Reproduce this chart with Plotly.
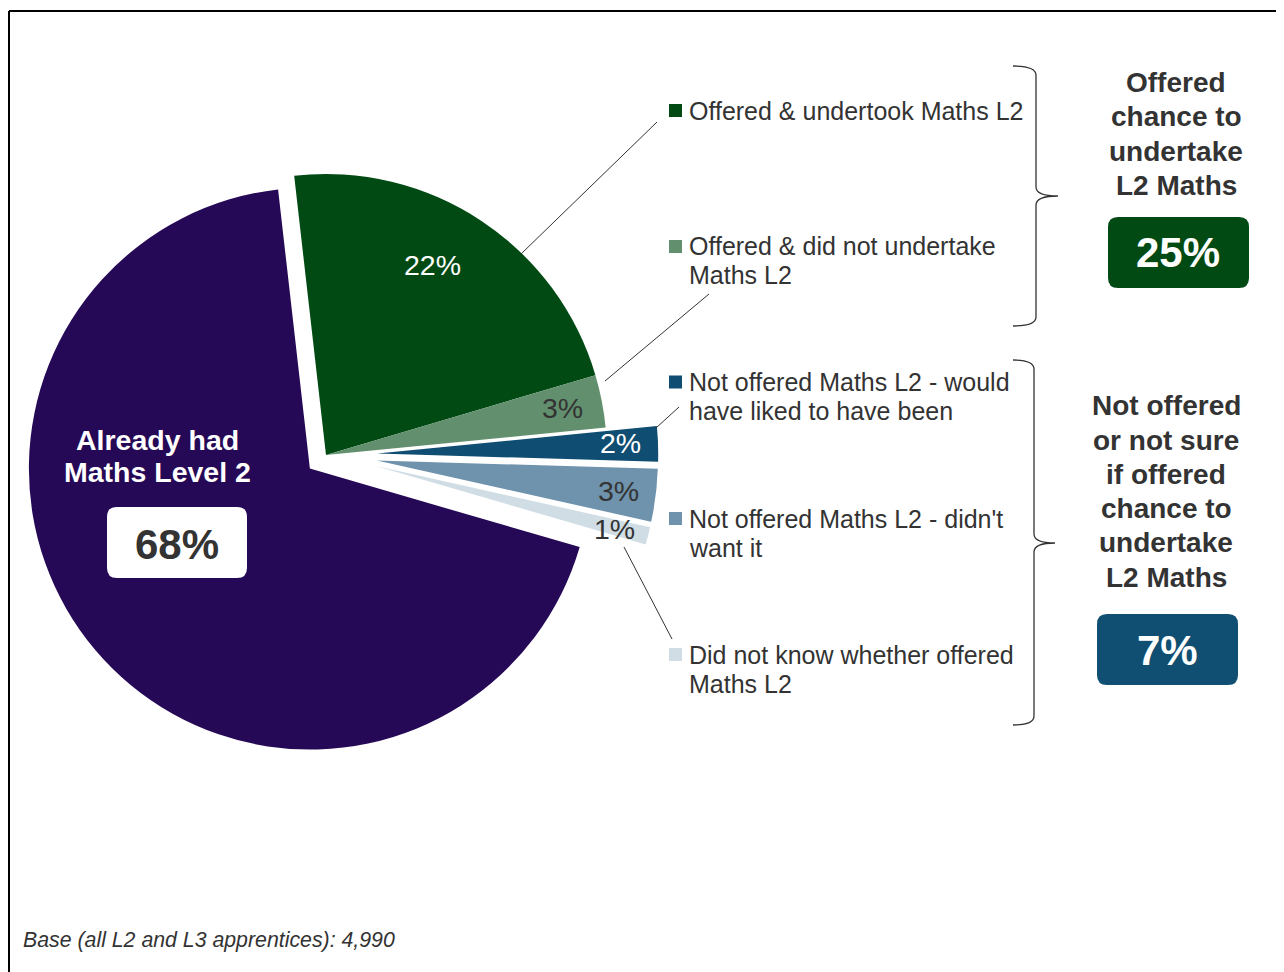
import plotly.graph_objects as go

W, H = 1284, 972
OFF = 8  # page body offset in the browser

# ---------------- data ----------------
categories = [
    "Offered & undertook Maths L2",
    "Offered & did not undertake Maths L2",
    "Not offered Maths L2 - would have liked to have been",
    "Not offered Maths L2 - didn't want it",
    "Did not know whether offered Maths L2",
    "Already had Maths Level 2",
]
values = [22, 3, 2, 3, 1, 68]
legend_lines = [
    ["Offered & undertook Maths L2"],
    ["Offered & did not undertake", "Maths L2"],
    ["Not offered Maths L2 - would", "have liked to have been"],
    ["Not offered Maths L2 - didn't", "want it"],
    ["Did not know whether offered", "Maths L2"],
]
offered_total = 25
not_offered_total = 7
group1_lines = ["Offered", "chance to", "undertake", "L2 Maths"]
group2_lines = ["Not offered", "or not sure", "if offered", "chance to", "undertake", "L2 Maths"]
main_label_lines = ["Already had", "Maths Level 2"]
base_note = "Base (all L2 and L3 apprentices): 4,990"

# ---------------- style ----------------
colors = ["#024A13", "#62906E", "#0F4D72", "#6F93AD", "#D0DDE5", "#260956"]
CLEAR = "rgba(0,0,0,0)"
FONT = "Liberation Sans, Arial, sans-serif"
DARK = "#333333"


def X(px):
    return (px - OFF) / W


def Y(py):
    return 1 - (py - OFF) / H


fig = go.Figure()

# true pie centre (screen px) and radius
cx, cy, R = 326, 455, 281
p_main = 0.075   # purple slice pull
p_small = 0.157  # pull of the three small "not offered" slices (drawn in second layer)

# layer A: main slices
half_a = R * (1 + p_main)
fig.add_trace(go.Pie(
    values=values, labels=categories, sort=False, direction="clockwise",
    rotation=-6.5, pull=[0, 0, 0, 0, 0, p_main],
    marker=dict(colors=[colors[0], colors[1], CLEAR, CLEAR, CLEAR, colors[5]],
                line=dict(width=0)),
    textinfo="none", hoverinfo="label+percent", showlegend=False,
    domain=dict(x=[X(cx - half_a), X(cx + half_a)], y=[Y(cy + 335), Y(cy - 335)]),
))

# layer B: pulled-out small slices
half_b = R * (1 + p_small)
cxb = OFF + half_b
fig.add_trace(go.Pie(
    values=values, labels=categories, sort=False, direction="clockwise",
    rotation=-6.5, pull=[0, 0, p_small, p_small, p_small, 0],
    marker=dict(colors=[CLEAR, CLEAR, colors[2], colors[3], colors[4], CLEAR],
                line=dict(width=0)),
    textinfo="none", hoverinfo="label+percent", showlegend=False,
    domain=dict(x=[0, X(cxb + half_b)], y=[Y(cy + 345), Y(cy - 345)]),
))


def txt(x, y, s, size, color, bold=False, italic=False, xanchor="center"):
    if bold:
        s = "<b>" + s + "</b>"
    if italic:
        s = "<i>" + s + "</i>"
    fig.add_annotation(x=X(x), y=Y(y), xref="paper", yref="paper", text=s,
                       showarrow=False, xanchor=xanchor, yanchor="middle",
                       font=dict(family=FONT, size=size, color=color))


def rrect(x0, y0, x1, y1, r, fill):
    p = (f"M {X(x0+r)},{Y(y0)} L {X(x1-r)},{Y(y0)} Q {X(x1)},{Y(y0)} {X(x1)},{Y(y0+r)} "
         f"L {X(x1)},{Y(y1-r)} Q {X(x1)},{Y(y1)} {X(x1-r)},{Y(y1)} "
         f"L {X(x0+r)},{Y(y1)} Q {X(x0)},{Y(y1)} {X(x0)},{Y(y1-r)} "
         f"L {X(x0)},{Y(y0+r)} Q {X(x0)},{Y(y0)} {X(x0+r)},{Y(y0)} Z")
    fig.add_shape(type="path", path=p, xref="paper", yref="paper",
                  fillcolor=fill, line=dict(width=0), layer="above")


def line(x0, y0, x1, y1, color=DARK, width=1):
    fig.add_shape(type="line", x0=X(x0), y0=Y(y0), x1=X(x1), y1=Y(y1),
                  xref="paper", yref="paper", line=dict(color=color, width=width),
                  layer="above")


def brace(xl, spine, tip, top, bottom, mid):
    p = (f"M {X(xl)},{Y(top)} Q {X(spine)},{Y(top)} {X(spine)},{Y(top+9)} "
         f"L {X(spine)},{Y(mid-9)} Q {X(spine)},{Y(mid)} {X(tip)},{Y(mid)} "
         f"Q {X(spine)},{Y(mid)} {X(spine)},{Y(mid+9)} "
         f"L {X(spine)},{Y(bottom-9)} Q {X(spine)},{Y(bottom)} {X(xl)},{Y(bottom)}")
    fig.add_shape(type="path", path=p, xref="paper", yref="paper",
                  line=dict(color=DARK, width=1.3), layer="above")


# frame
line(9, 11, W + 20, 11, color="#000000", width=2)
line(9, 11, 9, H + 20, color="#000000", width=2)

# slice percentage labels
pct_pos = [(432, 265), (562, 408), (620, 443), (618, 491), (614, 529)]
pct_col = ["#FFFFFF", DARK, "#FFFFFF", DARK, DARK]
for v, (px, py), c in zip(values[:5], pct_pos, pct_col):
    txt(px, py, f"{v}%", 28.5, c)

# main slice label
for i, s in enumerate(main_label_lines):
    txt(157, 440 + 32 * i, s, 28.5, "#FFFFFF", bold=True)
rrect(107, 507, 247, 578, 10, "#FFFFFF")
txt(177, 544, f"{values[5]}%", 42, DARK, bold=True)

# leader lines
line(521, 254, 657, 122)
line(605, 381, 709, 294)
line(656, 428, 679, 407)
line(624, 547, 672, 639)

# legend
leg_y = [110.5, 246.5, 382, 518.5, 654.5]
for lines_, yy, c in zip(legend_lines, leg_y, colors[:5]):
    fig.add_shape(type="rect", x0=X(669), x1=X(682), y0=Y(yy - 6.5), y1=Y(yy + 6.5),
                  xref="paper", yref="paper", fillcolor=c, line=dict(width=0),
                  layer="above")
    for j, s in enumerate(lines_):
        txt(687, yy + 29 * j, s, 25, DARK, xanchor="left")

# braces
brace(1013, 1036, 1058, 66, 326, 196)
brace(1013, 1034, 1055, 360, 725, 543)

# group summaries
for i, s in enumerate(group1_lines):
    txt(1176, 82 + 34.5 * i, s, 28, DARK, bold=True)
rrect(1108, 217, 1249, 288, 10, colors[0])
txt(1178, 253, f"{offered_total}%", 42, "#FFFFFF", bold=True)

for i, s in enumerate(group2_lines):
    txt(1166, 406 + 34.2 * i, s, 28, DARK, bold=True)
rrect(1097, 614, 1238, 685, 10, "#104F72")
txt(1167, 650, f"{not_offered_total}%", 42, "#FFFFFF", bold=True)

# footnote
txt(21, 940, base_note, 21.3, DARK, italic=True, xanchor="left")

fig.update_layout(
    width=W, height=H, margin=dict(l=0, r=0, t=0, b=0),
    paper_bgcolor="#FFFFFF", plot_bgcolor="#FFFFFF", showlegend=False,
    font=dict(family=FONT),
)

fig.write_html("out.html")
